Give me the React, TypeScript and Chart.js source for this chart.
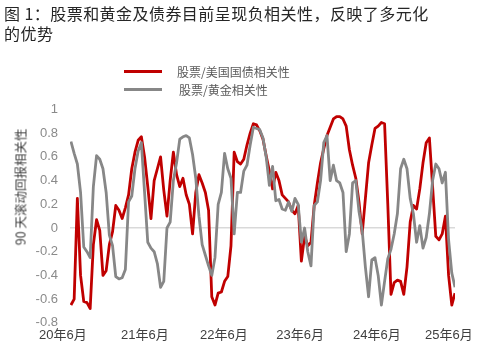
import React, { useEffect, useRef } from "react";
import { Chart, registerables } from "chart.js";

Chart.register(...registerables);

// x tick labels and their positions (index units along the series)
const xTickLabels = ["20年6月", "21年6月", "22年6月", "23年6月", "24年6月", "25年6月"];
const xTickPositions = [-2.5, 23.1, 47.8, 71.6, 95.6, 118.1];

const seriesNames = ["股票/美国国债相关性", "股票/黄金相关性"];
const yTitle = "90 天滚动回报相关性";

// 90-day rolling correlation, stocks vs US Treasuries
const bondCorr = [
  -0.65, -0.6, 0.25, -0.4, -0.62, -0.63, -0.68, -0.14, 0.07, -0.02,
  -0.4, -0.36, -0.14, -0.03, 0.19, 0.15, 0.08, 0.17, 0.28, 0.5,
  0.64, 0.74, 0.77, 0.6, 0.35, 0.08, 0.4, 0.5, 0.6, 0.32,
  0.1, 0.4, 0.64, 0.45, 0.35, 0.42, 0.28, 0.2, -0.05, 0.3,
  0.45, 0.38, 0.3, 0.15, -0.58, -0.65, -0.55, -0.54, -0.45, -0.41,
  -0.15, 0.64, 0.56, 0.54, 0.58, 0.7, 0.8, 0.88, 0.87, 0.82,
  0.75, 0.61, 0.48, 0.33, 0.47, 0.4, 0.28, 0.25, 0.22, 0.15,
  0.12, 0.19, -0.28, -0.07, -0.15, -0.12, 0.19, 0.38, 0.55, 0.67,
  0.78, 0.85, 0.92, 0.94, 0.94, 0.92, 0.86, 0.66, 0.53, 0.42,
  0.22, -0.05, 0.25, 0.55, 0.7, 0.84, 0.86, 0.89, 0.88, 0.2,
  -0.56, -0.46, -0.44, -0.45, -0.56, -0.33, 0.05, 0.19, 0.16, 0.33,
  0.55, 0.72, 0.76, 0.35, -0.07, -0.1, -0.05, 0.1, -0.4, -0.65,
  -0.55,
];

// 90-day rolling correlation, stocks vs gold
const goldCorr = [
  0.73, 0.63, 0.54, 0.3, -0.16, -0.2, -0.25, 0.35, 0.61, 0.58,
  0.5, 0.3, -0.06, -0.15, -0.41, -0.43, -0.42, -0.35, 0.22, 0.27,
  0.5, 0.65, 0.72, 0.3, -0.12, -0.17, -0.2, -0.3, -0.5, -0.45,
  0.0, 0.05, 0.4, 0.55, 0.75, 0.77, 0.78, 0.76, 0.62, 0.42,
  0.1, -0.14, -0.23, -0.32, -0.4, -0.25, 0.2, 0.3, 0.63, 0.5,
  0.42, -0.05, 0.3, 0.3, 0.48, 0.53, 0.7, 0.85, 0.84, 0.83,
  0.76, 0.6, 0.36, 0.52, 0.23, 0.24, 0.16, 0.15, 0.22, 0.14,
  0.25, 0.2, -0.12, 0.0, -0.2, -0.32, 0.19, 0.22, 0.4, 0.72,
  0.78, 0.4, 0.53, 0.4, 0.38, 0.3, -0.2, -0.05, 0.38, 0.4,
  0.14, -0.02, -0.33, -0.58, -0.27, -0.25, -0.4, -0.65, -0.45, -0.26,
  -0.18, -0.05, 0.12, 0.5, 0.58, 0.5, 0.25, 0.12, -0.12, 0.02,
  -0.17, -0.08, 0.12, 0.4, 0.54, 0.5, 0.38, 0.47, -0.1, -0.38,
  -0.5,
];

const RED = "#C00000";
const GREY = "#878787";
const FONT = "'Liberation Sans', 'Noto Sans CJK SC', sans-serif";
const CJK = "'Noto Sans CJK SC', sans-serif";

export default function App() {
  const canvasRef = useRef<HTMLCanvasElement | null>(null);

  useEffect(() => {
    const canvas = canvasRef.current;
    if (!canvas) return;
    const chart = new Chart(canvas, {
      type: "line",
      data: {
        datasets: [
          {
            label: seriesNames[1],
            data: goldCorr.map((y, i) => ({ x: i, y })),
            borderColor: GREY,
            borderWidth: 2.8,
            pointRadius: 0,
            tension: 0,
            borderJoinStyle: "round",
          },
          {
            label: seriesNames[0],
            data: bondCorr.map((y, i) => ({ x: i, y })),
            borderColor: RED,
            borderWidth: 2.8,
            pointRadius: 0,
            tension: 0,
            borderJoinStyle: "round",
          },
        ],
      },
      options: {
        animation: false,
        responsive: false,
        devicePixelRatio: 1,
        layout: { padding: { top: 109.5, bottom: 8.8, left: 0, right: 23 } },
        plugins: {
          legend: { display: false },
          tooltip: { enabled: false },
          title: { display: false },
        },
        scales: {
          x: {
            type: "linear",
            min: -0.3,
            max: 120,
            grid: { display: false, drawTicks: false },
            border: { display: false },
            afterBuildTicks: (scale: any) => {
              scale.ticks = xTickPositions.map((v) => ({ value: v }));
            },
            ticks: {
              autoSkip: false,
              maxRotation: 0,
              padding: 4.4,
              color: "#404040",
              font: { family: FONT, size: 13 },
              callback: (_v: any, idx: number) => xTickLabels[idx],
            },
          },
          y: {
            min: -0.8,
            max: 1,
            afterFit: (scale: any) => {
              scale.width = 70;
            },
            grid: {
              drawTicks: false,
              color: (ctx: any) => (ctx.tick && Math.abs(ctx.tick.value) < 1e-9 ? "#d9d9d9" : "rgba(0,0,0,0)"),
              lineWidth: 1.6,
            },
            border: { display: false },
            ticks: {
              stepSize: 0.2,
              padding: 12,
              color: "#8a8a8a",
              font: { family: FONT, size: 13 },
              callback: (v: any) => {
                const n = Number(Number(v).toFixed(1));
                return (n === 0 ? 0 : n).toString();
              },
            },
          },
        },
      },
    });
    return () => chart.destroy();
  }, []);

  return (
    <div style={{ position: "absolute", left: 0, top: 0, width: 478, height: 356, background: "#fff", overflow: "hidden" }}>
      <canvas ref={canvasRef} width={478} height={356} style={{ position: "absolute", left: 0, top: 0, width: 478, height: 356 }} />
      <div
        style={{
          position: "absolute",
          left: 4,
          top: 3,
          fontFamily: CJK,
          fontSize: 16,
          lineHeight: "20px",
          letterSpacing: "0.45px",
          color: "#262626",
          whiteSpace: "nowrap",
        }}
      >
        <div>图 1：股票和黄金及债券目前呈现负相关性，反映了多元化</div>
        <div>的优势</div>
      </div>
      {[0, 1].map((k) => (
        <div key={k} style={{ position: "absolute", left: 124, top: k === 0 ? 62 : 80, height: 18, display: "flex", alignItems: "center" }}>
          <div style={{ width: 38, height: 3, background: k === 0 ? RED : GREY }} />
          <span
            style={{
              marginLeft: k === 0 ? 15 : 17,
              fontFamily: CJK,
              fontSize: 12,
              color: "#595959",
              whiteSpace: "nowrap",
            }}
          >
            {seriesNames[k]}
          </span>
        </div>
      ))}
      <div
        style={{
          position: "absolute",
          left: 20,
          top: 187,
          transform: "translate(-50%, -50%) rotate(-90deg)",
          fontFamily: CJK,
          fontSize: 12.5,
          lineHeight: "15px",
          color: "#404040",
          whiteSpace: "nowrap",
        }}
      >
        {yTitle}
      </div>
    </div>
  );
}
